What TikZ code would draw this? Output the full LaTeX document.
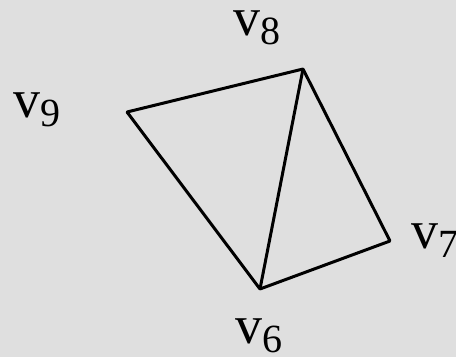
\documentclass[tikz,border=0pt]{standalone}
\usepackage{fontspec}
\setmainfont{Liberation Serif}
\begin{document}
\begin{tikzpicture}[x=1pt,y=-1pt,
  vert/.style={inner sep=0pt,minimum size=0pt},
  edge/.style={line width=3pt,line join=round,line cap=round},
  lab/.style={inner sep=0pt,anchor=base west,font=\rmfamily\fontsize{54}{54}\selectfont}]
\fill[gray!25] (0,0) rectangle (456,357);
\useasboundingbox (0,0) rectangle (456,357);
\node[vert] (v8) at (303,69) {};
\node[vert] (v9) at (127,112) {};
\node[vert] (v7) at (390,241) {};
\node[vert] (v6) at (260,289) {};
\draw[edge] (v9) -- (v8) -- (v7) -- (v6) -- (v9);
\draw[edge] (v8) -- (v6);
\newcommand{\vlab}[1]{v\raisebox{-9pt}{\fontsize{40}{40}\selectfont #1}}
\node[lab] (l8) at (233,35) {\vlab{8}};
\node[lab] (l9) at (13,117) {\vlab{9}};
\node[lab] (l7) at (411,248) {\vlab{7}};
\node[lab] (l6) at (235,343) {\vlab{6}};
\end{tikzpicture}
\end{document}
